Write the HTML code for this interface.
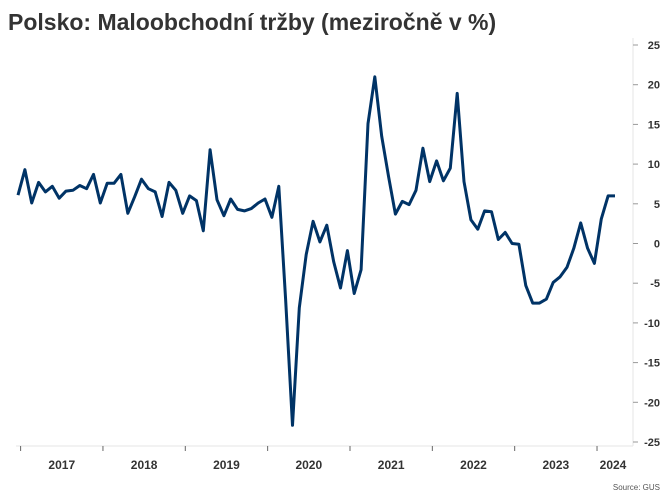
<!DOCTYPE html>
<html><head><meta charset="utf-8"><style>
body{margin:0;background:#fff;}
svg{display:block;font-family:"Liberation Sans",sans-serif;}
</style></head><body>
<svg id="chart" width="670" height="502">
<text x="8" y="30" font-size="23" font-weight="bold" fill="#333">Polsko: Maloobchodní tržby (meziročně v %)</text>
<line x1="633" y1="38" x2="633" y2="446" stroke="#e6e6e6"/>
<line x1="16" y1="446" x2="633" y2="446" stroke="#e6e6e6"/>
<g id="yaxis"></g><g id="xaxis"></g><g id="series"></g>
<text x="660" y="490" font-size="8" fill="#555" text-anchor="end">Source: GUS</text>
</svg>
<script>
const yTicks=[25,20,15,10,5,0,-5,-10,-15,-20,-25];
const years=["2017","2018","2019","2020","2021","2022","2023","2024"];
const values=[6.1,9.3,5.1,7.7,6.5,7.2,5.7,6.6,6.7,7.3,6.9,8.7,5.1,7.6,7.6,8.7,3.8,5.9,8.1,6.9,6.5,3.4,7.7,6.7,3.8,6.0,5.4,1.6,11.8,5.5,3.5,5.6,4.3,4.1,4.4,5.1,5.6,3.3,7.2,-7.0,-22.9,
-8.1,-1.4,2.8,0.2,2.3,-2.3,-5.6,-0.9,-6.3,-3.3,15.1,21.0,13.5,8.4,3.7,5.3,4.9,6.7,12.0,7.8,10.4,7.9,9.5,18.9,7.8,3.0,1.8,4.1,4.0,0.5,1.4,0.0,-0.1,-5.3,-7.5,-7.5,-7.0,-4.9,-4.2,-3.0,-0.6,2.6,-0.6,-2.5,3.1,6.0,6.0];
const NS="http://www.w3.org/2000/svg";
const x0=18,x1=615;
const step=(x1-x0)/(values.length-1);
function xs(i){return x0+i*step;}
function ys(v){return 243.5-7.94*v;}
const ya=document.getElementById('yaxis');
yTicks.forEach(t=>{
  const l=document.createElementNS(NS,'line');
  l.setAttribute('x1',633);l.setAttribute('x2',638);l.setAttribute('y1',ys(t));l.setAttribute('y2',ys(t));
  l.setAttribute('stroke','#999');
  
  
  ya.appendChild(l);
  const tx=document.createElementNS(NS,'text');
  tx.setAttribute('x',660);tx.setAttribute('y',ys(t)+4);tx.setAttribute('text-anchor','end');
  tx.setAttribute('font-size','11');tx.setAttribute('font-weight','bold');tx.setAttribute('fill','#333');
  tx.textContent=t;
  
  
  ya.appendChild(tx);
});
const xa=document.getElementById('xaxis');
years.forEach((yr,k)=>{
  const tx0=xs(12*k+0.38);
  const l=document.createElementNS(NS,'line');
  l.setAttribute('x1',tx0);l.setAttribute('x2',tx0);l.setAttribute('y1',446);l.setAttribute('y2',451);
  l.setAttribute('stroke','#666');
  
  
  xa.appendChild(l);
  const next=Math.min(xs(12*(k+1)+0.38),629);
  const t=document.createElementNS(NS,'text');
  t.setAttribute('x',(tx0+next)/2);t.setAttribute('y',469);t.setAttribute('text-anchor','middle');
  t.setAttribute('font-size','12');t.setAttribute('font-weight','bold');t.setAttribute('fill','#333');
  t.textContent=yr;
  
  
  xa.appendChild(t);
});
const p=document.createElementNS(NS,'polyline');
p.setAttribute('points',values.map((v,i)=>xs(i).toFixed(1)+','+ys(v).toFixed(1)).join(' '));
p.setAttribute('fill','none');p.setAttribute('stroke','#003366');p.setAttribute('stroke-width','3');
p.setAttribute('stroke-linejoin','round');


document.getElementById('series').appendChild(p);
</script>
</body></html>
